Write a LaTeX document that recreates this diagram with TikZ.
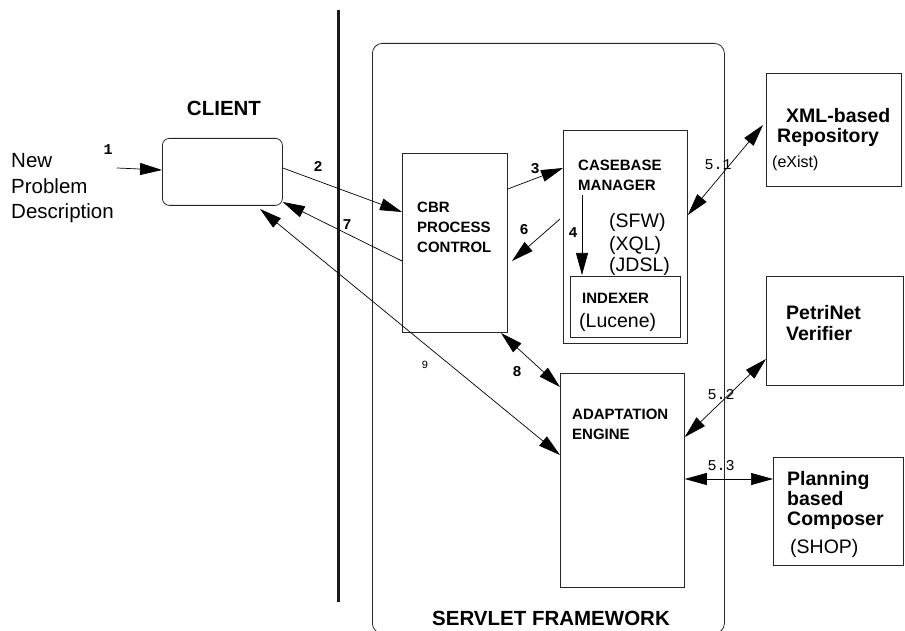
\documentclass[tikz,border=0pt]{standalone}
\usepackage{fontspec}
\setmainfont{Liberation Sans}
\newfontfamily\monof{Liberation Mono}
\usetikzlibrary{arrows.meta}
\begin{document}
\begin{tikzpicture}[x=1pt,y=-1pt,
  box/.style={draw=black!85, line width=0.8pt, inner sep=0, anchor=north west},
  lbl/.style={inner sep=0, anchor=base west},
  small/.style={font=\fontsize{15}{20}\selectfont\bfseries},
  big/.style={font=\fontsize{19.5}{20.5}\selectfont\bfseries},
  plain/.style={font=\fontsize{19.5}{24}\selectfont},
  title/.style={font=\fontsize{20.5}{24}\selectfont\bfseries, inner sep=0, anchor=base},
  num/.style={font=\monof\fontsize{15}{15}\selectfont\bfseries, inner sep=0},
  thinnum/.style={font=\monof\fontsize{15}{15}\selectfont, inner sep=0},
  tip/.tip={Triangle[length=22pt,width=12pt]},
  conn/.style={line width=0.7pt, -tip},
  bconn/.style={line width=0.7pt, tip-tip}
]
\useasboundingbox (0,0) rectangle (905,631);

% client / server divider
\draw[line width=3pt, black!90] (338,10) -- (338,602);

% servlet container
\node[box, rounded corners=10pt, minimum width=352pt, minimum height=590pt] (servlet) at (372,43) {};
\node[title] (servletlbl) at (551,625) {SERVLET FRAMEWORK};

% client side
\node[title] (clientlbl) at (224,116) {CLIENT};
\node[box, rounded corners=7pt, minimum width=120pt, minimum height=67pt] (client) at (162,138) {};
\begin{scope}[every node/.append style={lbl, font=\fontsize{20.5}{25}\selectfont}]
  \node (np1) at (11,168) {New};
  \node (np2) at (11,194) {Problem};
  \node (np3) at (11,219) {Description};
\end{scope}
\coordinate (inp) at (117,168);

% CBR process control
\node[box, minimum width=105pt, minimum height=179pt] (cbr) at (402,153) {};
\node[lbl, small] (cbr1) at (417,213) {CBR};
\node[lbl, small] (cbr2) at (417,233) {PROCESS};
\node[lbl, small] (cbr3) at (417,253) {CONTROL};

% casebase manager and indexer
\node[box, minimum width=124pt, minimum height=213pt] (cm) at (563,130) {};
\node[lbl, small] (cm1) at (578,171) {CASEBASE};
\node[lbl, small] (cm2) at (578,191) {MANAGER};
\node[lbl, plain] (sfw) at (609,228) {(SFW)};
\node[lbl, plain] (xql) at (609,251) {(XQL)};
\node[lbl, plain] (jdsl) at (609,271) {(JDSL)};
\node[box, minimum width=110pt, minimum height=61pt] (idx) at (570,276) {};
\node[lbl, small] (idxlbl) at (582,303) {INDEXER};
\node[lbl, plain] (lucene) at (579,327) {(Lucene)};

% adaptation engine
\node[box, minimum width=124pt, minimum height=214pt] (adapt) at (560,373) {};
\node[lbl, small] (ad1) at (572,419) {ADAPTATION};
\node[lbl, small] (ad2) at (572,439) {ENGINE};

% external services
\node[box, minimum width=135pt, minimum height=113pt] (xml) at (766,73) {};
\node[lbl, big] (xmllbl) at (786,123) {XML-based};
\node[lbl, big] (replbl) at (777,143) {Repository};
\node[lbl, font=\fontsize{16}{20}\selectfont] (exist) at (772,168) {(eXist)};

\node[box, minimum width=137pt, minimum height=109pt] (petri) at (766,276) {};
\node[lbl, big] (pv1) at (786,319) {PetriNet};
\node[lbl, big] (pv2) at (786,340) {Verifier};

\node[box, minimum width=130pt, minimum height=108pt] (plan) at (773,457) {};
\node[lbl, big] (pc1) at (787,485) {Planning};
\node[lbl, big] (pc2) at (787,505) {based};
\node[lbl, big] (pc3) at (787,525) {Composer};
\node[lbl, plain] (shop) at (790,553) {(SHOP)};

% connectors
\draw[conn] (inp) -- (client.west |- 0,170);
\node[num] (n1) at (108,150) {1};

\draw[conn] (client.east |- 0,168) -- (cbr.west |- 0,212);
\node[num] (n2) at (318,166) {2};

\draw[conn] (cbr.west |- 0,261) -- (client.east |- 0,202);
\node[num] (n7) at (347,225) {7};

\draw[bconn] (260,209) -- (adapt.west |- 0,455);
\node[thinnum, font=\monof\fontsize{11}{11}\selectfont] (n9) at (425,365) {9};

\draw[conn] (cbr.east |- 0,189) -- (cm.west |- 0,168);
\node[num] (n3) at (535,169) {3};

\draw[conn] (560,219) -- (512,261);
\node[num] (n6) at (524,230) {6};

\draw[conn] (582,195) -- (582,275);
\node[num] (n4) at (573,233) {4};

\draw[bconn] (501,333) -- (adapt.west |- 0,387);
\node[num] (n8) at (517,372) {8};

\draw[bconn] (cm.east |- 0,215) -- (763,125);
\node[thinnum] (n51) at (718,165) {5.1};

\draw[bconn] (adapt.east |- 0,437) -- (petri.west |- 0,359);
\node[thinnum] (n52) at (721,395) {5.2};

\draw[bconn] (adapt.east |- 0,479) -- (plan.west |- 0,479);
\node[thinnum] (n53) at (721,466) {5.3};
\end{tikzpicture}
\end{document}
